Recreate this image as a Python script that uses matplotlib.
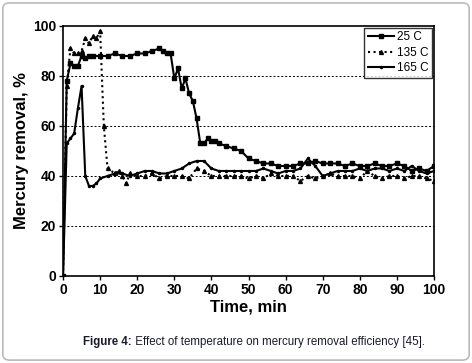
import matplotlib
matplotlib.use("Agg")
import matplotlib.pyplot as plt
from matplotlib.patches import FancyBboxPatch

plt.rcParams['font.family'] = ['Liberation Sans', 'DejaVu Sans']

# 25 C series
t_25 = [0, 1, 2, 3, 4, 5, 6, 7, 8, 10, 12, 14, 16, 18, 20, 22, 24, 26, 27, 28, 29,
        30, 31, 32, 33, 34, 35, 36, 37, 38, 39, 40, 41, 42, 44, 46, 48, 50, 52, 54,
        56, 58, 60, 62, 64, 66, 68, 70, 72, 74, 76, 78, 80, 82, 84, 86, 88, 90, 92,
        94, 96, 98, 100]
hg_25 = [0, 78, 85, 84, 84, 88, 87, 88, 88, 88, 88, 89, 88, 88, 89, 89, 90, 91, 90, 89, 89,
         79, 83, 75, 79, 73, 70, 63, 53, 53, 55, 54, 54, 53, 52, 51, 50, 47, 46, 45,
         45, 44, 44, 44, 45, 45, 46, 45, 45, 45, 44, 45, 44, 44, 45, 44, 44, 45, 44,
         42, 43, 42, 44]

# 135 C series
t_135 = [0, 1, 2, 3, 4, 5, 6, 7, 8, 9, 10, 11, 12, 14, 15, 16, 17, 18, 20, 22, 24, 26,
         28, 30, 32, 34, 36, 38, 40, 42, 44, 46, 48, 50, 52, 54, 56, 58, 60, 62, 64,
         66, 68, 70, 72, 74, 76, 78, 80, 82, 84, 86, 88, 90, 92, 94, 96, 98, 100]
hg_135 = [0, 76, 91, 89, 89, 90, 95, 93, 96, 95, 98, 60, 43, 41, 42, 40, 37, 41, 40, 40, 41, 39,
          40, 40, 40, 39, 43, 42, 40, 40, 40, 40, 40, 39, 40, 39, 41, 40, 40, 40, 38,
          40, 39, 40, 41, 40, 40, 40, 39, 42, 40, 39, 40, 40, 39, 40, 40, 39, 38]

# 165 C series
t_165 = [0, 1, 2, 3, 4, 5, 6, 7, 8, 9, 10, 12, 14, 16, 18, 20, 22, 24, 26, 28, 30, 32,
         34, 36, 38, 40, 42, 44, 46, 48, 50, 52, 54, 56, 58, 60, 62, 64, 66, 68, 70,
         72, 74, 76, 78, 80, 82, 84, 86, 88, 90, 92, 94, 96, 98, 100]
hg_165 = [0, 53, 55, 57, 67, 76, 40, 36, 36, 37, 39, 40, 41, 41, 40, 41, 42, 42, 41, 41, 42, 43,
          45, 46, 46, 43, 42, 42, 42, 42, 42, 42, 43, 42, 41, 42, 42, 43, 47, 44, 40,
          41, 42, 42, 42, 43, 42, 43, 43, 42, 43, 42, 44, 42, 41, 42]

fig = plt.figure(figsize=(4.72, 3.63), dpi=100)
ax = fig.add_axes([0.1335, 0.2397, 0.786, 0.6887])

ax.plot(t_25, hg_25, '-s', color='black', lw=1.5, ms=2.8, label='25 C')
ax.plot(t_135, hg_135, ':^', color='black', lw=1.5, ms=2.8, label='135 C')
ax.plot(t_165, hg_165, '-o', color='black', lw=1.5, ms=1.5, label='165 C')

ax.set_xlim(0, 100)
ax.set_ylim(0, 100)
ax.set_xticks(range(0, 101, 10))
ax.set_yticks(range(0, 101, 20))
for y in [20, 40, 60, 80]:
    ax.axhline(y, color='black', lw=0.7, ls=(0, (2, 2)), zorder=0)
for s in ax.spines.values():
    s.set_linewidth(1.2)
ax.tick_params(direction='out', length=3, width=1, pad=2)
for lab in ax.get_xticklabels() + ax.get_yticklabels():
    lab.set_fontsize(10)
    lab.set_fontweight('bold')
ax.set_xlabel('Time, min', fontsize=12, fontweight='bold', labelpad=2)
ax.set_ylabel('Mercury removal, %', fontsize=12, fontweight='bold', labelpad=3)

leg = ax.legend(loc='upper right', fontsize=8.5, frameon=True, fancybox=False,
                borderpad=0.3, handlelength=2.2, handletextpad=0.3,
                labelspacing=0.3, borderaxespad=0.15)
leg.get_frame().set_edgecolor('black')
leg.get_frame().set_linewidth(1.0)

# caption
cap1 = fig.text(0.176, 0.05, 'Figure 4:', fontsize=8.3, fontweight='bold',
                color='#1a1a2e', va='baseline')
ax.annotate(' Effect of temperature on mercury removal efficiency [45].',
            xy=(1, 0), xycoords=cap1, va='bottom', fontsize=8.3,
            color='#1a1a2e', annotation_clip=False)

# outer rounded frame
frame = FancyBboxPatch((0.006, 0.008), 0.988, 0.984, transform=fig.transFigure,
                       boxstyle='round,pad=0,rounding_size=0.015',
                       facecolor='none', edgecolor='#bbbbbb', lw=1.2)
fig.patches.append(frame)

fig.savefig('out.png', dpi=100)
